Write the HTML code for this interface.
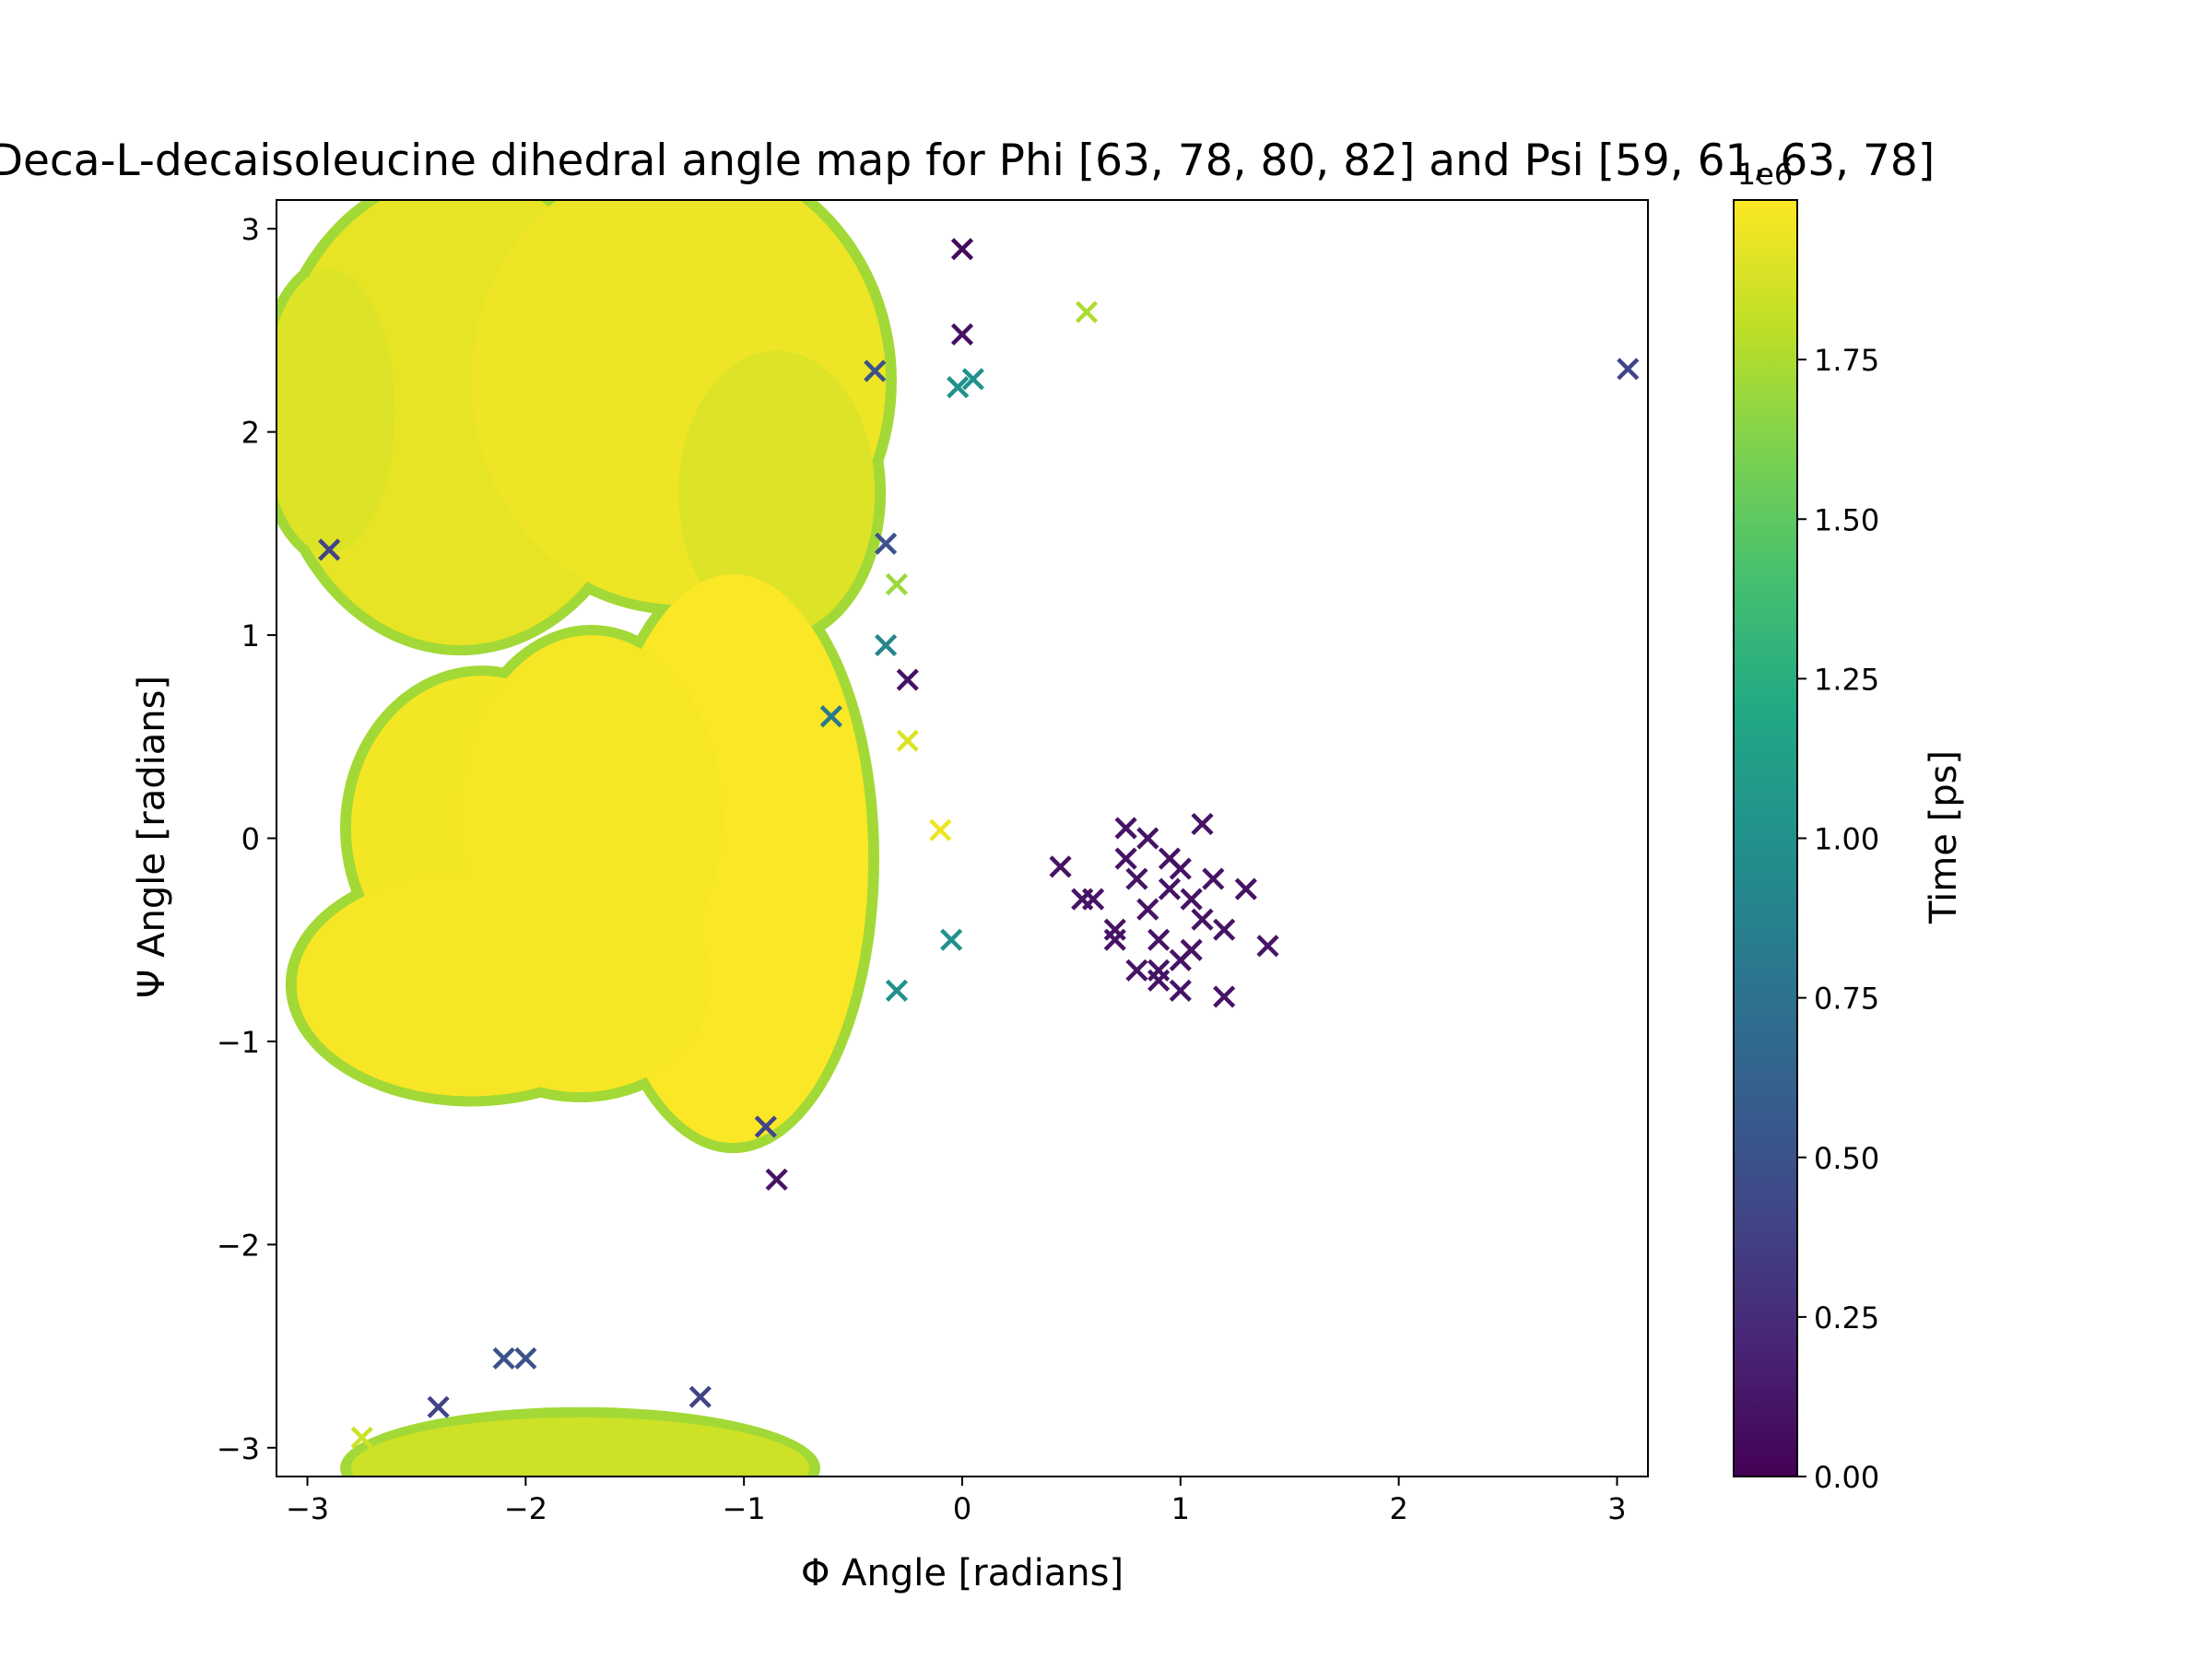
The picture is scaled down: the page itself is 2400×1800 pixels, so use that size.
<!DOCTYPE html>
<html><head><meta charset="utf-8"><style>
html,body{margin:0;padding:0;background:#fff}
svg{display:block;font-family:"DejaVu Sans","Liberation Sans",sans-serif}
</style></head><body>
<svg id="chart" width="2400" height="1800" viewBox="0 0 2400 1800" xmlns="http://www.w3.org/2000/svg">
<defs>
<clipPath id="plotclip"><rect x="300" y="217" width="1488" height="1385"/></clipPath>
<linearGradient id="viridis" x1="0" y1="1" x2="0" y2="0">
<stop offset="0" stop-color="#440154"/><stop offset="0.1" stop-color="#482475"/><stop offset="0.2" stop-color="#414487"/>
<stop offset="0.3" stop-color="#355f8d"/><stop offset="0.4" stop-color="#2a788e"/><stop offset="0.5" stop-color="#21918c"/>
<stop offset="0.6" stop-color="#22a884"/><stop offset="0.7" stop-color="#44bf70"/><stop offset="0.8" stop-color="#7ad151"/>
<stop offset="0.9" stop-color="#bddf26"/><stop offset="1" stop-color="#fde725"/>
</linearGradient>
</defs>
<text x="1044" y="190" text-anchor="middle" font-size="47">Deca-L-decaisoleucine dihedral angle map for Phi [63, 78, 80, 82] and Psi [59, 61, 63, 78]</text>
<g id="plot" clip-path="url(#plotclip)"></g>
<rect x="300" y="217" width="1488" height="1385" fill="none" stroke="#000" stroke-width="2"/>
<g id="axes"></g>
<text x="1044" y="1720" text-anchor="middle" font-size="40">Φ Angle [radians]</text>
<text transform="translate(178,908) rotate(-90)" text-anchor="middle" font-size="40">Ψ Angle [radians]</text>
<rect x="1881" y="217" width="69" height="1385" fill="url(#viridis)" stroke="#000" stroke-width="2"/>
<g id="cbaxis"></g>
<text x="1915" y="200" text-anchor="middle" font-size="32">1e6</text>
<text transform="translate(2122,908) rotate(-90)" text-anchor="middle" font-size="40">Time [ps]</text>
</svg>
<script>
// Dense regions (phi, psi, spreads in radians), colour value in 1e6 ps
const blobPhi = [-2.3, -1.3, -0.85, -2.2, -2.25, -1.05, -1.75, -1.7, -1.75, -2.9];
const blobPsi = [2.1, 2.25, 1.7, 0.05, -0.72, -0.1, -3.1, 0.1, -0.7, 2.1];
const blobRx = [0.85, 0.95, 0.45, 0.6, 0.8, 0.62, 1.05, 0.6, 0.6, 0.3];
const blobRy = [1.15, 1.1, 0.7, 0.75, 0.55, 1.4, 0.25, 0.9, 0.55, 0.7];
const blobT = [1.93, 1.95, 1.9, 1.97, 1.98, 1.99, 1.85, 1.98, 1.98, 1.9];
// Sparse points
const ptPhi = [0.0,0.0,-0.02,0.05,0.57,3.05,-0.25,-0.35,-0.1,-0.05,-0.85,-0.9,-2.1,-2.0,-1.2,-0.4,-0.35,-0.3,-2.9,-2.75,-2.4,-0.6,-0.25,-0.3,
  0.45,0.55,0.7,0.75,0.8,0.85,0.9,0.95,1.0,1.05,1.1,1.15,1.2,1.3,1.4,0.9,0.8,1.0,1.1,0.95,0.85,0.75,1.05,0.6,1.2,0.9,1.0,0.7];
const ptPsi = [2.9,2.48,2.22,2.26,2.59,2.31,0.78,0.95,0.04,-0.5,-1.68,-1.42,-2.56,-2.56,-2.75,2.3,1.45,1.25,1.42,-2.95,-2.8,0.6,0.48,-0.75,
  -0.14,-0.3,-0.45,0.05,-0.2,-0.35,-0.5,-0.1,-0.6,-0.3,0.07,-0.2,-0.78,-0.25,-0.53,-0.65,-0.65,-0.75,-0.4,-0.25,0.0,-0.1,-0.55,-0.3,-0.45,-0.7,-0.15,-0.5];
const ptT = [0.05,0.08,1.0,1.0,1.75,0.4,0.1,0.9,1.95,1.0,0.1,0.4,0.5,0.5,0.4,0.5,0.5,1.7,0.4,1.85,0.4,0.8,1.9,1.0,
  0.1,0.1,0.1,0.1,0.1,0.1,0.1,0.1,0.1,0.1,0.1,0.1,0.1,0.1,0.1,0.1,0.1,0.1,0.1,0.1,0.1,0.1,0.1,0.1,0.1,0.1,0.1,0.1];
const xTicks = [-3,-2,-1,0,1,2,3];
const yTicks = [-3,-2,-1,0,1,2,3];
const cbTicks = [0,0.25,0.5,0.75,1.0,1.25,1.5,1.75];

const NS="http://www.w3.org/2000/svg";
const X0=300,X1=1788,Y0=217,Y1=1602;
const sx=v=>X0+(v+Math.PI)/(2*Math.PI)*(X1-X0);
const sy=v=>Y1-(v+Math.PI)/(2*Math.PI)*(Y1-Y0);
const scb=v=>1602-v/2.0*1385;
const V=[[68,1,84],[72,36,117],[65,68,135],[53,95,141],[42,120,142],[33,145,140],[34,168,132],[68,191,112],[122,209,81],[189,223,38],[253,231,37]];
function cmap(t){let u=Math.max(0,Math.min(1,t/2.0))*10,i=Math.min(9,Math.floor(u)),f=u-i;
 const c=V[i].map((a,k)=>Math.round(a+(V[i+1][k]-a)*f));return `rgb(${c[0]},${c[1]},${c[2]})`;}
function mk(tag,attrs,parent){const e=document.createElementNS(NS,tag);for(const k in attrs)e.setAttribute(k,attrs[k]);parent.appendChild(e);return e;}
const plot=document.getElementById('plot');
for(let i=0;i<blobPhi.length;i++){
 const e=mk('ellipse',{cx:sx(blobPhi[i]),cy:sy(blobPsi[i]),rx:(blobRx[i]+0.05)*1488/(2*Math.PI),ry:(blobRy[i]+0.05)*1385/(2*Math.PI),fill:cmap(1.72)},plot);
 
 
}
for(let i=0;i<blobPhi.length;i++){
 const e=mk('ellipse',{cx:sx(blobPhi[i]),cy:sy(blobPsi[i]),rx:blobRx[i]*1488/(2*Math.PI),ry:blobRy[i]*1385/(2*Math.PI),fill:cmap(blobT[i])},plot);
 
 
}
for(let i=0;i<ptPhi.length;i++){
 const x=sx(ptPhi[i]),y=sy(ptPsi[i]),r=10.5;
 const p=mk('path',{d:`M${x-r},${y-r}L${x+r},${y+r}M${x-r},${y+r}L${x+r},${y-r}`,stroke:cmap(ptT[i]),'stroke-width':4.5,fill:'none'},plot);
 
 
}
const ax=document.getElementById('axes');
const lab=v=>v<0?'\u2212'+Math.abs(v):String(v);
xTicks.forEach(v=>{const x=sx(v);
 const l=mk('line',{x1:x,x2:x,y1:Y1,y2:Y1+10,stroke:'#000','stroke-width':2},ax);
 
 
 const t=mk('text',{x:x,y:Y1+46,'text-anchor':'middle','font-size':32},ax);t.textContent=lab(v);
 
 
});
yTicks.forEach(v=>{const y=sy(v);
 const l=mk('line',{x1:X0-10,x2:X0,y1:y,y2:y,stroke:'#000','stroke-width':2},ax);
 
 
 const t=mk('text',{x:X0-18,y:y+12,'text-anchor':'end','font-size':32},ax);t.textContent=lab(v);
 
 
});
const cb=document.getElementById('cbaxis');
cbTicks.forEach(v=>{const y=scb(v);
 const l=mk('line',{x1:1950,x2:1960,y1:y,y2:y,stroke:'#000','stroke-width':2},cb);
 
 
 const t=mk('text',{x:1968,y:y+12,'font-size':32},cb);t.textContent=v.toFixed(2);
 
 
});
</script>
</body></html>
